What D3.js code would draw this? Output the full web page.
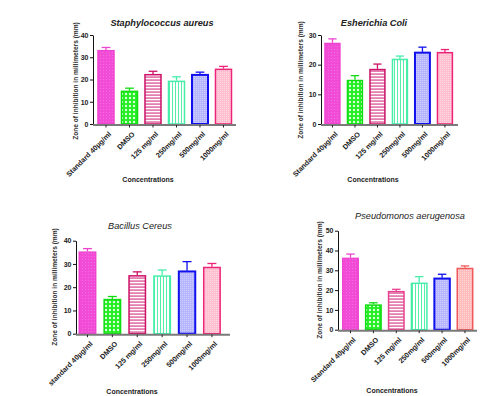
<!DOCTYPE html>
<html>
<head>
<meta charset="utf-8">
<script src="https://cdn.jsdelivr.net/npm/d3@7"></script>
<style>
  body { margin: 0; background: #fff; }
  svg { display: block; font-family: "Liberation Sans", Arial, sans-serif; }
</style>
</head>
<body>
<svg width="500" height="396"></svg>
<script>
// groups on the x axis
const groups = ["Standard 40µg/ml", "DMSO", "125 mg/ml", "250mg/ml", "500mg/ml", "1000mg/ml"];
const groupsBacillus = ["standard 40µg/ml", "DMSO", "125 mg/ml", "250mg/ml", "500mg/ml", "1000mg/ml"];

// zone of inhibition (mm), mean and upper error value
const staphMean = [33.3, 15.0, 22.5, 19.5, 22.4, 24.9];
const staphErr  = [34.4, 16.1, 23.7, 21.2, 23.3, 25.9];
const coliMean  = [27.4, 14.9, 18.6, 22.0, 24.3, 24.3];
const coliErr   = [28.7, 16.3, 20.2, 22.9, 25.9, 25.1];
const bacMean   = [35.4, 15.0, 25.2, 25.1, 27.1, 28.8];
const bacErr    = [36.6, 16.0, 26.6, 27.4, 31.0, 30.2];
const pseuMean  = [36.4, 12.8, 19.6, 23.8, 26.2, 31.3];
const pseuErr   = [38.2, 13.6, 20.4, 26.8, 28.0, 32.2];

const yTicks40 = [0, 10, 20, 30, 40];
const yTicks30 = [0, 10, 20, 30];
const yTicks50 = [0, 10, 20, 30, 40, 50];

const svg = d3.select("svg");
const defs = svg.append("defs");

// fill patterns, roughly like the prism hatches
function pat(id, w, h, bg, draw) {
  const p = defs.append("pattern").attr("id", id).attr("patternUnits", "userSpaceOnUse")
    .attr("width", w).attr("height", h);
  p.append("rect").attr("width", w).attr("height", h).attr("fill", bg);
  draw(p);
}
pat("p0", 3, 3, "#f24cd6", p => p.append("rect").attr("x", 1).attr("y", 1).attr("width", 1).attr("height", 1).attr("fill", "#f06ee0"));
pat("p1", 4, 4, "#20ee20", p => p.append("circle").attr("cx", 2).attr("cy", 2).attr("r", 1.2).attr("fill", "#d8ffd8"));
pat("p2", 3, 3, "#e57fb0", p => p.append("rect").attr("y", 0).attr("width", 3).attr("height", 1.2).attr("fill", "#fff"));
pat("p3", 3, 3, "#ffffff", p => p.append("rect").attr("x", 1).attr("width", 1).attr("height", 3).attr("fill", "#55eeaa"));
pat("p4", 2, 2, "#b6b6ff", p => p.append("rect").attr("width", 1).attr("height", 1).attr("fill", "#cfcfff"));
pat("p5", 2, 2, "#ffbfd0", p => p.append("rect").attr("width", 1).attr("height", 1).attr("fill", "#ffd8e2"));
pat("p5r", 2, 2, "#ffbcbc", p => p.append("rect").attr("width", 1).attr("height", 1).attr("fill", "#ffd6d6"));

const strokes = ["#ee44d0", "#10dd10", "#cc1166", "#44eea8", "#1010ee", "#ee2277"];
const fills = ["url(#p0)", "url(#p1)", "url(#p2)", "url(#p3)", "url(#p4)", "url(#p5)"];

const panels = [
  {title: "Staphylococcus aureus", bold: true, cats: groups, mean: staphMean, err: staphErr, max: 40, ticks: yTicks40,
   x0: 93, x1: 236, yTop: 35, y0: 124, pi: 0.255, po: 0.17, al: 0.53, tx: 162, ty: 26, ly: 81, lx: 78, cx: 148, cy: 182},
  {title: "Esherichia Coli", bold: true, cats: groups, mean: coliMean, err: coliErr, max: 30, ticks: yTicks30,
   x0: 321, x1: 458, yTop: 35, y0: 124, pi: 0.27, po: 0.18, al: 0.4, tx: 374, ty: 26, ly: 80, lx: 303, cx: 373, cy: 182},
  {title: "Bacillus Cereus", bold: false, cats: groupsBacillus, mean: bacMean, err: bacErr, max: 40, ticks: yTicks40,
   x0: 76, x1: 230, yTop: 240.7, y0: 333.7, pi: 0.28, po: 0.233, al: 0.215, tx: 140, ty: 229, ly: 287, lx: 57, cx: 132, cy: 394},
  {title: "Pseudomonos aerugenosa", bold: false, cats: groups, mean: pseuMean, err: pseuErr, max: 50, ticks: yTicks50,
   x0: 338, x1: 477, yTop: 230.7, y0: 329.7, pi: 0.26, po: 0.165, al: 0.53, tx: 410, ty: 219, ly: 280, lx: 322, cx: 392, cy: 393, red: true}
];

panels.forEach(pn => {
  const g = svg.append("g");
  const x = d3.scaleBand().domain(pn.cats).range([pn.x0, pn.x1])
    .paddingInner(pn.pi).paddingOuter(pn.po).align(pn.al);
  const y = d3.scaleLinear().domain([0, pn.max]).range([pn.y0, pn.yTop]);

  const st = strokes.slice(), fl = fills.slice();
  if (pn.red) { st[5] = "#f05a5a"; fl[5] = "url(#p5r)"; st[2] = "#e8408e"; }

  // error bars (upper only)
  const eb = g.selectAll(".eb").data(pn.cats).join("g");
  eb.append("line")
    .attr("x1", d => x(d) + x.bandwidth() / 2).attr("x2", d => x(d) + x.bandwidth() / 2)
    .attr("y1", (d, i) => y(pn.mean[i])).attr("y2", (d, i) => y(pn.err[i]))
    .attr("stroke", (d, i) => st[i]).attr("stroke-width", 1.3);
  eb.append("line")
    .attr("x1", d => x(d) + x.bandwidth() * 0.25).attr("x2", d => x(d) + x.bandwidth() * 0.75)
    .attr("y1", (d, i) => y(pn.err[i])).attr("y2", (d, i) => y(pn.err[i]))
    .attr("stroke", (d, i) => st[i]).attr("stroke-width", 1.3);

  // bars
  g.selectAll(".bar").data(pn.cats).join("rect")
    .attr("x", d => x(d) + 0.75).attr("width", x.bandwidth() - 1.5)
    .attr("y", (d, i) => y(pn.mean[i]) + 0.75)
    .attr("height", (d, i) => y(0) - y(pn.mean[i]) - 0.75)
    .attr("fill", (d, i) => fl[i])
    .attr("stroke", (d, i) => st[i])
    .attr("stroke-width", (d, i) => i === 4 ? 2 : 1.5);

  // y axis
  const ya = g.append("g").attr("transform", `translate(${pn.x0},0)`)
    .call(d3.axisLeft(y).tickValues(pn.ticks).tickSize(3).tickPadding(1.5).tickSizeOuter(0));
  ya.select(".domain").attr("stroke", "#111");
  ya.selectAll("line").attr("stroke", "#111");
  ya.selectAll("text").attr("font-size", 7).attr("font-weight", "bold").attr("fill", "#222");

  // x axis
  const xa = g.append("g").attr("transform", `translate(0,${pn.y0 + 1})`)
    .call(d3.axisBottom(x).tickSize(2.5).tickSizeOuter(0).tickPadding(2));
  xa.select(".domain").attr("stroke", "#7a7a7a").attr("stroke-width", 2)
    .attr("d", `M${pn.x0},0H${pn.x1}`);
  xa.selectAll("line").attr("stroke", "#222");
  xa.selectAll("text")
    .attr("font-size", 7.2).attr("font-weight", "bold").attr("fill", "#222")
    .attr("text-anchor", "end").attr("dy", 0)
    .attr("transform", "translate(2.5,6.5) rotate(-45)");

  // texts
  g.append("text").attr("x", pn.tx).attr("y", pn.ty).attr("text-anchor", "middle")
    .attr("font-size", 9.2).attr("font-style", "italic")
    .attr("font-weight", pn.bold ? "bold" : "normal").attr("fill", "#222").text(pn.title);
  g.append("text").attr("transform", `translate(${pn.lx},${pn.ly}) rotate(-90)`)
    .attr("text-anchor", "middle").attr("font-size", 6.6).attr("font-weight", "bold").attr("fill", "#333")
    .text("Zone of inhibition in millimeters (mm)");
  g.append("text").attr("x", pn.cx).attr("y", pn.cy).attr("text-anchor", "middle")
    .attr("font-size", 7).attr("font-weight", "bold").attr("fill", "#222").text("Concentrations");
});
</script>
</body>
</html>
